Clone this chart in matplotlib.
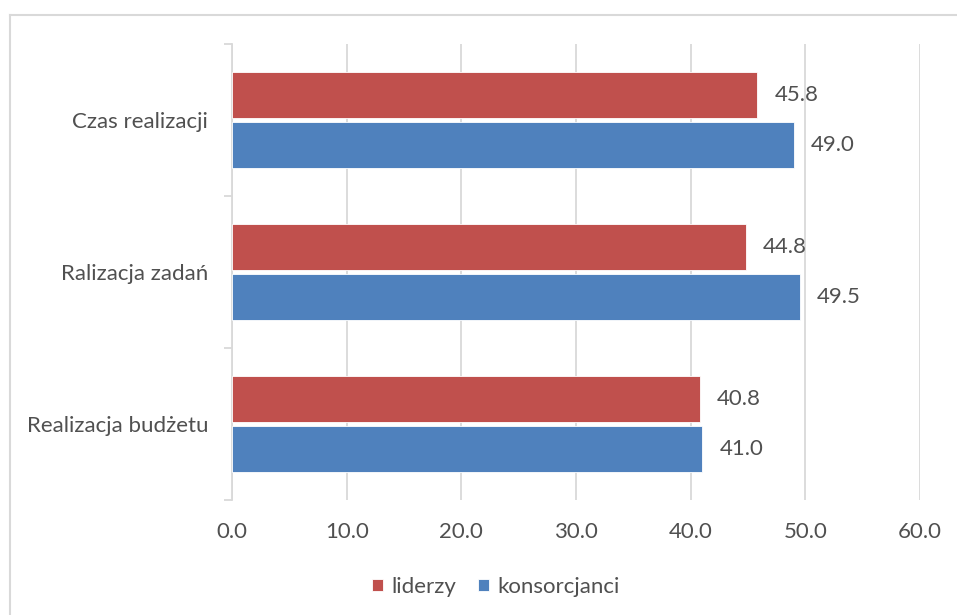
import matplotlib
matplotlib.use("Agg")
import matplotlib.pyplot as plt
from matplotlib.lines import Line2D
import numpy as np

categories = ["Czas realizacji", "Ralizacja zadań", "Realizacja budżetu"]
liderzy = [45.8, 44.8, 40.8]
konsorcjanci = [49.0, 49.5, 41.0]
series_names = ["liderzy", "konsorcjanci"]
x_ticks = [0, 10, 20, 30, 40, 50, 60]

RED = "#C0504D"
BLUE = "#4F81BD"
GRID = "#D9D9D9"
TEXT = "#505050"
FS = 16

plt.rcParams["font.family"] = ["Lato", "DejaVu Sans"]

fig = plt.figure(figsize=(9.57, 6.15), dpi=100)
ax = fig.add_axes([0.2424, 0.187, 0.9613 - 0.2424, 0.9285 - 0.187])

n = len(categories)
pos = np.arange(n)[::-1].astype(float)  # first category on top
h = 0.30
gap = 0.013
ax.barh(pos + h / 2 + gap, liderzy, height=h, color=RED, edgecolor="white", linewidth=0.6, label=series_names[0], zorder=3)
ax.barh(pos - h / 2 - gap, konsorcjanci, height=h, color=BLUE, edgecolor="white", linewidth=0.6, label=series_names[1], zorder=3)

for y, v in zip(pos + h / 2 + gap, liderzy):
    ax.text(v + 1.5, y, f"{v:.1f}", va="center", ha="left", fontsize=FS, color=TEXT)
for y, v in zip(pos - h / 2 - gap, konsorcjanci):
    ax.text(v + 1.5, y, f"{v:.1f}", va="center", ha="left", fontsize=FS, color=TEXT)

ax.set_xlim(0, 60)
ax.set_ylim(-0.5, n - 0.5)
ax.set_xticks(x_ticks)
ax.set_xticklabels([f"{t:.1f}" for t in x_ticks], fontsize=FS, color=TEXT)
ax.tick_params(axis="x", length=0, pad=16)
ax.xaxis.grid(True, color=GRID, linewidth=1.3, zorder=0)

ax.set_yticks(pos)
ax.set_yticklabels(categories, fontsize=FS, color=TEXT)
ax.tick_params(axis="y", which="major", length=0, pad=17)
ax.set_yticks(np.arange(n + 1) - 0.5, minor=True)
ax.tick_params(axis="y", which="minor", length=6, color=GRID, width=1.3)

for s in ["top", "right", "bottom"]:
    ax.spines[s].set_visible(False)
ax.spines["left"].set_color(GRID)
ax.spines["left"].set_linewidth(1.3)

leg = fig.legend(loc="center", bbox_to_anchor=(496 / 957, 1 - 587 / 615), ncol=2, frameon=False,
                 fontsize=FS, handlelength=0.5, handleheight=0.5, handletextpad=0.35,
                 columnspacing=1.0)
for t in leg.get_texts():
    t.set_color(TEXT)

# partial chart-area frame along top and left
fig.add_artist(Line2D([10 / 957, 1.0], [1 - 15 / 615, 1 - 15 / 615], transform=fig.transFigure, color=GRID, linewidth=1.5))
fig.add_artist(Line2D([10 / 957, 10 / 957], [1 - 15 / 615, 0.0], transform=fig.transFigure, color=GRID, linewidth=1.5))

fig.savefig("out.png", dpi=100, facecolor="white")
